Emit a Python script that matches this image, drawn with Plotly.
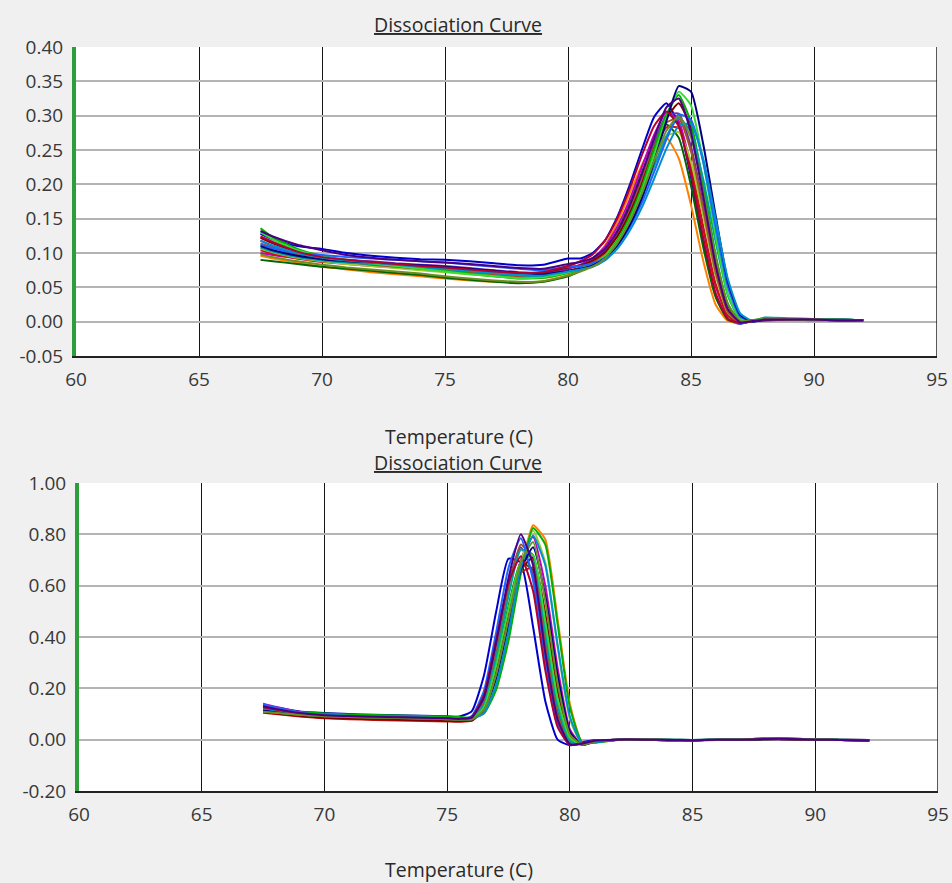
import plotly.graph_objects as go

# ---------------- data ----------------
temp_top = [67.5, 68, 69, 70, 71, 72, 73, 74, 75, 76, 77, 78, 79, 80,
            80.5, 81, 81.5, 82, 82.5, 83, 83.5, 84, 84.5, 85, 85.5, 86, 86.5, 87, 87.5,
            88, 89, 90, 91, 92]

top_01 = [0.128,0.120,0.110,0.106,0.100,0.096,0.093,0.091,0.090,0.088,0.085,0.082,0.083,0.092,
          0.092,0.100,0.118,0.152,0.198,0.250,0.298,0.318,0.288,0.210,0.115,0.038,0.003,-0.003,0.002,
          0.003,0.003,0.003,0.002,0.002]
top_02 = [0.096,0.092,0.086,0.080,0.076,0.072,0.069,0.066,0.063,0.060,0.058,0.057,0.059,0.068,
          0.078,0.090,0.111,0.144,0.186,0.228,0.260,0.268,0.238,0.170,0.088,0.025,0.001,-0.002,0.001,
          0.002,0.002,0.002,0.002,0.001]
top_03 = [0.090,0.088,0.084,0.080,0.077,0.074,0.071,0.068,0.064,0.061,0.058,0.056,0.058,0.066,
          0.074,0.084,0.102,0.132,0.171,0.217,0.259,0.287,0.268,0.198,0.108,0.036,0.003,-0.002,0.002,
          0.003,0.003,0.003,0.002,0.002]
top_04 = [0.100,0.097,0.092,0.089,0.086,0.083,0.081,0.079,0.077,0.074,0.071,0.069,0.069,0.077,
          0.083,0.092,0.109,0.138,0.177,0.225,0.272,0.305,0.292,0.225,0.135,0.052,0.008,-0.002,0.001,
          0.002,0.003,0.003,0.002,0.002]
top_05 = [0.104,0.099,0.092,0.087,0.084,0.081,0.079,0.077,0.075,0.072,0.069,0.067,0.067,0.074,
          0.079,0.087,0.101,0.127,0.163,0.207,0.250,0.283,0.282,0.225,0.138,0.055,0.009,-0.002,0.001,
          0.002,0.003,0.002,0.002,0.002]
top_06 = [0.118,0.110,0.099,0.094,0.090,0.088,0.085,0.083,0.081,0.078,0.075,0.072,0.071,0.078,
          0.082,0.090,0.105,0.131,0.167,0.212,0.262,0.300,0.303,0.255,0.170,0.078,0.016,-0.002,0.001,
          0.003,0.003,0.003,0.002,0.002]
top_07 = [0.106,0.101,0.093,0.088,0.084,0.081,0.078,0.075,0.072,0.069,0.066,0.064,0.064,0.071,
          0.076,0.084,0.098,0.123,0.156,0.196,0.238,0.270,0.276,0.233,0.153,0.067,0.013,-0.001,0.002,
          0.005,0.004,0.004,0.003,0.002]
top_08 = [0.114,0.108,0.098,0.091,0.087,0.083,0.080,0.077,0.075,0.072,0.069,0.066,0.066,0.073,
          0.078,0.086,0.100,0.126,0.162,0.207,0.255,0.290,0.296,0.248,0.163,0.072,0.014,-0.002,0.001,
          0.003,0.003,0.003,0.002,0.002]
top_09 = [0.122,0.114,0.101,0.092,0.088,0.085,0.082,0.080,0.078,0.075,0.073,0.071,0.072,0.079,
          0.082,0.089,0.101,0.124,0.157,0.200,0.251,0.296,0.318,0.283,0.195,0.094,0.024,0.000,0.001,
          0.002,0.003,0.003,0.002,0.002]
top_10 = [0.136,0.123,0.106,0.096,0.090,0.086,0.082,0.078,0.074,0.070,0.066,0.063,0.064,0.071,
          0.076,0.083,0.095,0.118,0.152,0.196,0.251,0.302,0.330,0.290,0.200,0.098,0.026,0.000,0.002,
          0.004,0.004,0.003,0.003,0.002]
top_11 = [0.108,0.102,0.094,0.089,0.086,0.084,0.082,0.080,0.077,0.074,0.071,0.068,0.066,0.072,
          0.076,0.081,0.091,0.111,0.141,0.180,0.226,0.270,0.297,0.276,0.207,0.117,0.038,0.003,0.001,
          0.006,0.005,0.004,0.003,0.002]
top_12 = [0.130,0.120,0.104,0.095,0.089,0.085,0.081,0.077,0.073,0.069,0.066,0.063,0.065,0.072,
          0.077,0.083,0.095,0.116,0.147,0.190,0.243,0.296,0.335,0.315,0.232,0.126,0.040,0.004,0.001,
          0.004,0.004,0.004,0.003,0.002]
top_13 = [0.112,0.107,0.100,0.097,0.094,0.092,0.090,0.088,0.086,0.083,0.080,0.077,0.075,0.080,
          0.081,0.085,0.093,0.110,0.137,0.173,0.218,0.265,0.302,0.294,0.232,0.138,0.050,0.007,0.001,
          0.003,0.003,0.003,0.003,0.002]
top_14 = [0.110,0.104,0.096,0.091,0.088,0.086,0.084,0.082,0.080,0.077,0.074,0.071,0.069,0.074,
          0.077,0.082,0.092,0.111,0.140,0.180,0.233,0.292,0.343,0.335,0.258,0.155,0.058,0.010,0.000,
          0.003,0.004,0.003,0.003,0.002]
top_15 = [0.118,0.111,0.100,0.093,0.089,0.086,0.083,0.080,0.077,0.074,0.071,0.068,0.067,0.073,
          0.076,0.080,0.089,0.106,0.132,0.166,0.208,0.252,0.285,0.288,0.237,0.150,0.062,0.012,0.001,
          0.004,0.004,0.003,0.003,0.002]
top_16 = [0.124,0.116,0.102,0.094,0.090,0.087,0.084,0.081,0.079,0.076,0.073,0.071,0.072,0.081,
          0.088,0.098,0.118,0.150,0.193,0.242,0.285,0.306,0.285,0.215,0.122,0.042,0.004,-0.002,0.002,
          0.003,0.003,0.003,0.002,0.002]
top_17 = [0.098,0.094,0.088,0.083,0.079,0.076,0.073,0.070,0.066,0.063,0.060,0.058,0.059,0.067,
          0.073,0.080,0.092,0.114,0.145,0.186,0.234,0.278,0.299,0.268,0.188,0.094,0.026,0.001,0.002,
          0.004,0.003,0.003,0.003,0.002]
top_18 = [0.132,0.124,0.112,0.104,0.097,0.093,0.090,0.088,0.086,0.084,0.081,0.078,0.077,0.084,
          0.087,0.093,0.106,0.131,0.168,0.215,0.267,0.312,0.325,0.275,0.182,0.083,0.018,-0.001,0.001,
          0.003,0.003,0.003,0.002,0.002]

temp_bot = [67.5, 68, 69, 70, 71, 72, 73, 74, 75, 75.5,
            76, 76.5, 77, 77.5, 78, 78.5, 79, 79.5, 80, 80.5, 81,
            82, 83, 84, 85, 86, 87, 88, 89, 90, 91, 92.2]

bot_01 = [0.135,0.126,0.110,0.104,0.100,0.097,0.095,0.093,0.091,0.090,
          0.110,0.250,0.500,0.705,0.690,0.440,0.150,0.000,-0.022,-0.010,-0.002,
          0.000,0.000,-0.002,-0.002,0.000,0.000,0.003,0.002,0.000,-0.001,-0.002]
bot_02 = [0.120,0.114,0.102,0.096,0.093,0.091,0.089,0.087,0.085,0.083,
          0.082,0.105,0.205,0.400,0.660,0.835,0.780,0.470,0.140,-0.012,-0.012,
          0.000,0.000,0.000,-0.002,0.000,0.001,0.004,0.003,0.000,-0.001,-0.002]
bot_03 = [0.112,0.108,0.098,0.092,0.089,0.087,0.085,0.083,0.081,0.079,
          0.080,0.130,0.300,0.520,0.690,0.660,0.380,0.110,-0.010,-0.018,-0.005,
          0.000,0.000,-0.002,-0.002,-0.001,0.000,0.002,0.002,0.000,-0.001,-0.002]
bot_04 = [0.140,0.128,0.108,0.098,0.094,0.091,0.088,0.085,0.082,0.080,
          0.080,0.115,0.250,0.470,0.700,0.790,0.600,0.280,0.040,-0.020,-0.008,
          0.000,0.000,0.000,-0.002,0.000,0.001,0.005,0.004,0.001,0.000,-0.001]
bot_05 = [0.105,0.100,0.090,0.083,0.080,0.077,0.075,0.073,0.071,0.070,
          0.073,0.118,0.270,0.480,0.650,0.670,0.430,0.150,0.005,-0.018,-0.006,
          0.000,0.000,-0.002,-0.002,-0.001,0.000,0.002,0.002,0.000,-0.001,-0.003]
bot_06 = [0.128,0.118,0.102,0.094,0.091,0.089,0.087,0.085,0.083,0.081,
          0.085,0.160,0.370,0.610,0.750,0.640,0.320,0.070,-0.018,-0.016,-0.004,
          0.000,0.000,-0.001,-0.002,0.000,0.000,0.003,0.002,0.000,-0.001,-0.002]
bot_07 = [0.118,0.112,0.100,0.094,0.091,0.089,0.087,0.085,0.083,0.081,
          0.080,0.108,0.230,0.440,0.690,0.815,0.690,0.360,0.080,-0.018,-0.010,
          0.000,0.000,0.000,-0.002,0.000,0.001,0.004,0.003,0.000,-0.001,-0.002]
bot_08 = [0.132,0.122,0.104,0.095,0.092,0.090,0.087,0.084,0.082,0.080,
          0.082,0.145,0.340,0.590,0.760,0.700,0.380,0.100,-0.015,-0.017,-0.005,
          0.000,0.000,-0.001,-0.002,0.000,0.001,0.005,0.004,0.001,0.000,-0.001]
bot_09 = [0.108,0.102,0.092,0.085,0.082,0.080,0.078,0.076,0.073,0.072,
          0.075,0.116,0.260,0.470,0.660,0.710,0.490,0.190,0.015,-0.019,-0.007,
          0.000,0.000,-0.002,-0.003,-0.001,0.000,0.002,0.002,0.000,-0.001,-0.003]
bot_10 = [0.125,0.119,0.108,0.102,0.098,0.096,0.094,0.092,0.090,0.088,
          0.086,0.102,0.195,0.385,0.645,0.825,0.760,0.450,0.125,-0.010,-0.012,
          0.000,0.000,0.000,-0.002,0.000,0.001,0.003,0.003,0.000,-0.001,-0.002]
bot_11 = [0.116,0.110,0.099,0.093,0.090,0.088,0.086,0.084,0.082,0.080,
          0.082,0.135,0.320,0.560,0.740,0.720,0.420,0.130,-0.005,-0.018,-0.005,
          0.000,0.001,0.000,-0.001,0.000,0.001,0.005,0.004,0.001,0.000,-0.001]
bot_12 = [0.110,0.106,0.097,0.091,0.088,0.086,0.084,0.082,0.080,0.078,
          0.079,0.125,0.290,0.510,0.690,0.720,0.460,0.160,0.008,-0.019,-0.006,
          0.000,0.000,-0.002,-0.002,-0.001,0.000,0.002,0.002,0.000,-0.001,-0.002]
bot_13 = [0.138,0.126,0.106,0.096,0.093,0.090,0.087,0.084,0.081,0.079,
          0.092,0.190,0.420,0.670,0.785,0.620,0.290,0.055,-0.020,-0.014,-0.004,
          0.000,0.000,0.000,-0.001,0.000,0.001,0.005,0.005,0.001,0.000,-0.001]
bot_14 = [0.114,0.109,0.099,0.092,0.089,0.087,0.085,0.083,0.081,0.079,
          0.079,0.112,0.240,0.450,0.660,0.750,0.560,0.250,0.030,-0.020,-0.008,
          0.000,0.000,-0.002,-0.002,-0.001,0.000,0.002,0.002,0.000,-0.001,-0.003]
bot_15 = [0.122,0.115,0.103,0.096,0.092,0.090,0.088,0.086,0.084,0.082,
          0.080,0.104,0.215,0.420,0.670,0.795,0.680,0.370,0.090,-0.016,-0.010,
          0.000,0.000,0.000,-0.002,0.000,0.001,0.004,0.003,0.000,-0.001,-0.002]
bot_16 = [0.126,0.117,0.101,0.093,0.090,0.088,0.086,0.084,0.082,0.081,
          0.088,0.175,0.390,0.610,0.715,0.580,0.270,0.050,-0.020,-0.014,-0.004,
          0.000,0.000,-0.001,-0.002,0.000,0.000,0.003,0.002,0.000,-0.001,-0.002]
bot_17 = [0.109,0.105,0.097,0.091,0.088,0.086,0.084,0.082,0.080,0.078,
          0.079,0.116,0.255,0.470,0.690,0.770,0.540,0.220,0.020,-0.020,-0.007,
          0.000,0.001,0.000,-0.001,0.000,0.001,0.005,0.004,0.001,0.000,-0.001]
bot_18 = [0.130,0.120,0.104,0.095,0.092,0.089,0.087,0.085,0.083,0.081,
          0.086,0.165,0.380,0.630,0.800,0.680,0.340,0.080,-0.018,-0.016,-0.004,
          0.000,0.000,-0.001,-0.002,0.000,0.000,0.003,0.003,0.000,-0.001,-0.002]

top_series = [top_01, top_02, top_03, top_04, top_05, top_06, top_07, top_08, top_09,
              top_10, top_11, top_12, top_13, top_14, top_15, top_16, top_17, top_18]
bot_series = [bot_01, bot_02, bot_03, bot_04, bot_05, bot_06, bot_07, bot_08, bot_09,
              bot_10, bot_11, bot_12, bot_13, bot_14, bot_15, bot_16, bot_17, bot_18]

x_ticks = [60, 65, 70, 75, 80, 85, 90, 95]
x_tick_text = ["60", "65", "70", "75", "80", "85", "90", "95"]
top_y_ticks = [0.40, 0.35, 0.30, 0.25, 0.20, 0.15, 0.10, 0.05, 0.00, -0.05]
top_y_text = ["0.40", "0.35", "0.30", "0.25", "0.20", "0.15", "0.10", "0.05", "0.00", "-0.05"]
bot_y_ticks = [1.00, 0.80, 0.60, 0.40, 0.20, 0.00, -0.20]
bot_y_text = ["1.00", "0.80", "0.60", "0.40", "0.20", "0.00", "-0.20"]

chart_title = "Dissociation Curve"
x_title = "Temperature (C)"

palette = ['#0000cc', '#ff8000', '#006400', '#c000c0', '#d01010', '#7030a0',
           '#9acd32', '#a0522d', '#800000', '#00b000', '#00a0a0', '#33dd33',
           '#1e64ff', '#000080', '#0090d0', '#b00030', '#6b8e23', '#4b0082']

# ---------------- figure ----------------
fig = go.Figure()
for i, ys in enumerate(top_series):
    fig.add_trace(go.Scatter(x=temp_top, y=ys, mode='lines',
                             line=dict(color=palette[i], width=2, shape='spline', smoothing=0.5),
                             xaxis='x', yaxis='y', showlegend=False, hoverinfo='skip'))
for i, ys in enumerate(bot_series):
    fig.add_trace(go.Scatter(x=temp_bot, y=ys, mode='lines',
                             line=dict(color=palette[i], width=2, shape='spline', smoothing=0.5),
                             xaxis='x2', yaxis='y2', showlegend=False, hoverinfo='skip'))

W, H = 952, 883
tick_font = dict(family="Open Sans, Liberation Sans, Arial, sans-serif", size=19, color="#383838")
title_font = dict(family="Open Sans, Liberation Sans, Arial, sans-serif", size=19.5, color="#2a2a2a")

def xax(domain, anchor):
    return dict(domain=domain, anchor=anchor, range=[60, 95], tickvals=x_ticks, ticktext=x_tick_text,
                showgrid=True, gridcolor='#151515', gridwidth=1.3, zeroline=False,
                showline=True, linecolor='#222222', linewidth=1.8, ticks='', automargin=False,
                ticklabelstandoff=5, tickfont=tick_font, fixedrange=True)

def yax(domain, anchor, rng, tv, tt):
    return dict(domain=domain, anchor=anchor, range=rng, tickvals=tv, ticktext=tt,
                showgrid=True, gridcolor='#b4b4b4', gridwidth=2, zeroline=False,
                showline=True, linecolor='#2e9e3a', linewidth=4, ticks='', automargin=False,
                ticklabelstandoff=5, tickfont=tick_font, fixedrange=True)

fig.update_layout(
    width=W, height=H, margin=dict(l=0, r=0, t=0, b=0, pad=0, autoexpand=False),
    paper_bgcolor='#f0f0f0', plot_bgcolor='#ffffff',
    xaxis=xax([76 / W, 937 / W], 'y'),
    yaxis=yax([(H - 356) / H, (H - 47) / H], 'x', [-0.05, 0.40], top_y_ticks, top_y_text),
    xaxis2=xax([79 / W, 938 / W], 'y2'),
    yaxis2=yax([(H - 791) / H, (H - 483) / H], 'x2', [-0.20, 1.00], bot_y_ticks, bot_y_text),
    shapes=[
        dict(type='line', xref='x', yref='y domain', x0=95, x1=95, y0=0, y1=1,
             line=dict(color='#222222', width=1.5)),
        dict(type='line', xref='x2', yref='y2 domain', x0=95, x1=95, y0=0, y1=1,
             line=dict(color='#222222', width=1.5)),
    ],
    annotations=[
        dict(text="<u>" + chart_title + "</u>", xref='paper', yref='paper', x=458 / W, y=(H - 25) / H,
             showarrow=False, font=title_font, xanchor='center', yanchor='middle'),
        dict(text=x_title, xref='paper', yref='paper', x=459 / W, y=(H - 436) / H,
             showarrow=False, font=title_font, xanchor='center', yanchor='middle'),
        dict(text="<u>" + chart_title + "</u>", xref='paper', yref='paper', x=458 / W, y=(H - 463) / H,
             showarrow=False, font=title_font, xanchor='center', yanchor='middle'),
        dict(text=x_title, xref='paper', yref='paper', x=459 / W, y=(H - 869) / H,
             showarrow=False, font=title_font, xanchor='center', yanchor='middle'),
    ],
)

fig.write_html("out.html", config={'displayModeBar': False},
               post_script="document.body.style.margin='0';document.body.style.background='#f0f0f0';"
                           "document.documentElement.style.overflow='hidden';")
